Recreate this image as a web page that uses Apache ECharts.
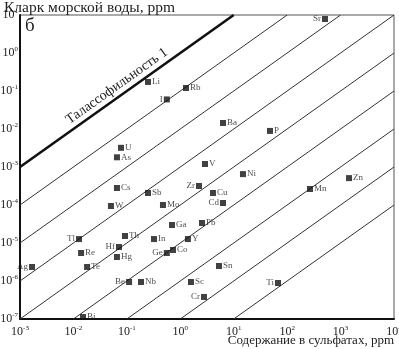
<!DOCTYPE html>
<html>
<head>
<meta charset="utf-8">
<script src="https://cdn.jsdelivr.net/npm/echarts@6/dist/echarts.min.js"></script>
<style>
  html, body { margin: 0; padding: 0; background: #fff; }
  #chart { width: 399px; height: 349px; }
</style>
</head>
<body>
<div id="chart"></div>
<script>
// element symbols, content in sulfates (ppm) and seawater clarke (ppm)
const elements = ["Sr", "Li", "Rb", "I", "Ba", "P", "U", "As", "V", "Ni", "Zn", "Zr", "Cs", "Mn", "Cu", "Sb", "Cd", "W", "Mo", "Pb", "Ga", "Th", "Tl", "In", "Y", "Hf", "Co", "Re", "Ge", "Hg", "Ag", "Te", "Sn", "Be", "Nb", "Sc", "Ti", "Cr", "Bi"];
const sulfates = [511, 0.249, 1.28, 0.56, 6.3, 47.8, 0.0777, 0.0653, 2.9, 14.9, 1440, 2.24, 0.0653, 268, 4.09, 0.249, 6.3, 0.0504, 0.474, 2.55, 0.70, 0.0923, 0.0127, 0.322, 1.39, 0.0713, 0.731, 0.0139, 0.56, 0.0653, 0.00168, 0.0180, 5.3, 0.110, 0.184, 1.585, 67.5, 2.78, 0.0151];
const seawater = [7.85, 0.173, 0.12, 0.06, 0.0144, 0.0089, 0.0032, 0.0018, 0.0012, 0.00065, 0.00051, 0.000316, 0.00028, 0.000264, 0.000207, 0.000207, 0.000113, 0.0000942, 0.0001, 3.36e-5, 2.98e-5, 1.53e-5, 1.27e-5, 1.27e-5, 1.27e-5, 7.85e-6, 6.54e-6, 5.46e-6, 5.46e-6, 4.28e-6, 2.34e-6, 2.34e-6, 2.48e-6, 9.4e-7, 9.4e-7, 9.4e-7, 8.86e-7, 3.8e-7, 1.13e-7];
// labels drawn on the left of the marker
const leftLabels = ["Sr", "I", "Zr", "Cd", "Tl", "Hf", "Ge", "Ag", "Be", "Cr", "Ti"];

// thalassophility lines (seawater / sulfates)
const ratios = [1, 1e-1, 1e-2, 1e-3, 1e-4, 1e-5, 1e-6, 1e-7, 1e-8];
const xMin = 1e-3, xMax = 1e4, yMin = 1e-7, yMax = 10;

const serif = "'Liberation Serif', 'DejaVu Serif', serif";

function lineData(k) {
  const x0 = Math.max(xMin, yMin / k);
  const x1 = Math.min(xMax, yMax / k);
  return [[x0, x0 * k], [x1, x1 * k]];
}

function powLabel(v) {
  const e = Math.round(Math.log10(v));
  return "{b|10}{e|" + e + "}";
}

const powRich = {
  b: { fontSize: 12, fontFamily: serif, color: "#222", lineHeight: 14 },
  e: { fontSize: 7, fontFamily: serif, color: "#222", verticalAlign: "top", lineHeight: 14, padding: [0, 0, 6, 0] },
};

const points = elements.map((el, i) => ({
  value: [sulfates[i], seawater[i]],
  name: el,
  label: { position: leftLabels.includes(el) ? "left" : "right" },
}));

const series = ratios.map((k) => ({
  type: "line",
  data: lineData(k),
  symbol: "none",
  silent: true,
  lineStyle: { color: k === 1 ? "#111" : "#333", width: k === 1 ? 2.6 : 1 },
  z: 2,
}));

series.push({
  type: "scatter",
  data: points,
  symbol: "rect",
  symbolSize: 6,
  itemStyle: { color: "#111" },
  label: {
    show: true,
    formatter: "{b}",
    fontSize: 9,
    fontFamily: serif,
    color: "#222",
    distance: 1,
  },
  z: 5,
});

const option = {
  animation: false,
  grid: {
    left: 20, right: 5, top: 15, bottom: 30,
    outerBoundsMode: "none",
    show: true, borderColor: "#555", borderWidth: 1,
  },
  xAxis: {
    type: "log",
    logBase: 10,
    min: xMin,
    max: xMax,
    axisLine: { show: true, lineStyle: { color: "#111", width: 2 } },
    axisTick: { show: false },
    splitLine: { show: false },
    axisLabel: { formatter: powLabel, rich: powRich, margin: 6, showMinLabel: true, showMaxLabel: true },
  },
  yAxis: {
    type: "log",
    logBase: 10,
    min: yMin,
    max: yMax,
    axisLine: { show: true, lineStyle: { color: "#111", width: 2 } },
    axisTick: { show: false },
    splitLine: { show: false },
    axisLabel: { formatter: powLabel, rich: powRich, margin: 2, showMinLabel: true, showMaxLabel: true },
  },
  series: series,
};

const chart = echarts.init(document.getElementById("chart"));
chart.setOption(option);

// axis names, panel letter and bold line caption
const corner = chart.convertToPixel({ gridIndex: 0 }, [xMin, yMax]);
const capPos = chart.convertToPixel({ gridIndex: 0 }, [0.065, 0.065]);
const p1 = chart.convertToPixel({ gridIndex: 0 }, [1, 1]);
const p10 = chart.convertToPixel({ gridIndex: 0 }, [10, 10]);
const angle = Math.atan2(p1[1] - p10[1], p10[0] - p1[0]);
chart.setOption({
  graphic: [
    {
      id: "yname",
      type: "text",
      x: 4,
      y: 0,
      style: { text: "Кларк морской воды, ppm", font: "15.5px " + serif, fill: "#222" },
    },
    {
      id: "xname",
      type: "text",
      x: 394,
      y: 334,
      style: { text: "Содержание в сульфатах, ppm", font: "13px " + serif, fill: "#222", align: "right" },
    },
    {
      id: "letter",
      type: "text",
      x: corner[0] + 5,
      y: corner[1] + 2,
      style: { text: "б", font: "19px " + serif, fill: "#222" },
    },
    {
      id: "caption",
      type: "text",
      x: capPos[0],
      y: capPos[1] - 12,
      rotation: angle,
      style: { text: "Талассофильность 1", font: "14px " + serif, fill: "#222", align: "center", verticalAlign: "middle" },
    },
  ],
});
</script>
</body>
</html>
